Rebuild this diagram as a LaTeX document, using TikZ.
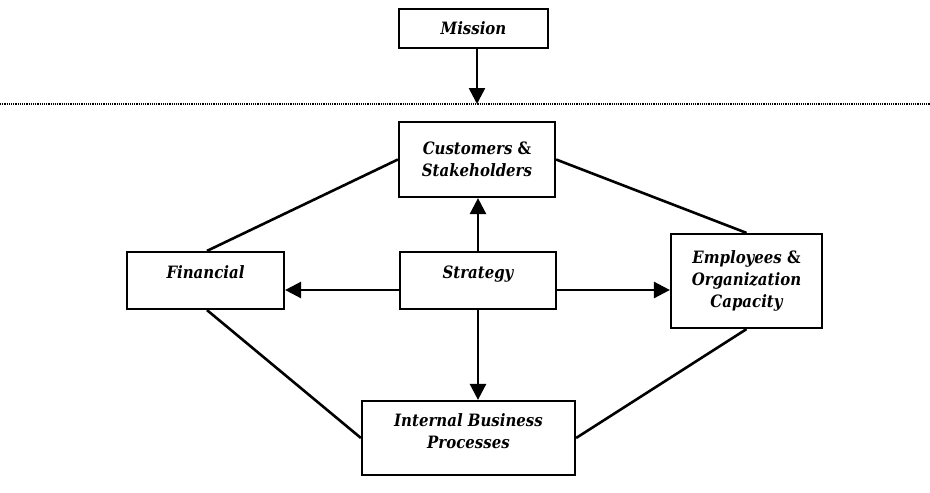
\documentclass[tikz,border=0pt]{standalone}
\usepackage{fontspec}
\setmainfont{DejaVu Serif}[FakeStretch=0.88]
\usetikzlibrary{arrows.meta}
\newcommand{\amp}{{\upshape\&}}
\tikzset{
  box/.style={draw, line width=2.2pt, rectangle, inner sep=0pt, align=center,
    font=\fontsize{17}{22}\selectfont\bfseries\itshape},
  conn/.style={line width=2.6pt},
  arr/.style={line width=2.6pt, -{Triangle[length=16pt,width=16pt]}},
  sep/.style={line width=1.3pt, dash pattern=on 1.2pt off 1pt}
}
\begin{document}
\begin{tikzpicture}[x=1pt,y=-1pt]
\useasboundingbox (0,0) rectangle (930,493);
\node[box, minimum width=149pt, minimum height=39pt] (mis) at (473.5,28.5) {Mission};
\node[box, minimum width=156pt, minimum height=75pt] (cust) at (477,159.5) {Customers \amp\\Stakeholders};
\node[box, minimum width=156pt, minimum height=57pt, text depth=16pt] (str) at (478,280.5) {Strategy};
\node[box, minimum width=157pt, minimum height=57pt, text depth=16pt] (fin) at (205.5,280.5) {Financial};
\node[box, minimum width=151pt, minimum height=94pt] (emp) at (746.5,281) {Employees \amp\\Organization\\Capacity};
\node[box, minimum width=213pt, minimum height=74pt, text depth=14pt] (int) at (468.5,438) {Internal Business\\Processes};
\coordinate (dl) at (477,104);
\coordinate (dlL) at (0,104);
\coordinate (dlR) at (930,104);
\draw[sep] (dlL) -- (dlR);
\draw[arr] (mis.south -| dl) -- (dl);
\draw[arr] (str.north) -- (str.north |- cust.south);
\draw[arr] (str.south) -- (str.south |- int.north);
\draw[arr] ([yshift=-9.5pt]str.west) -- ([yshift=-9.5pt]str.west -| fin.east);
\draw[arr] ([yshift=-9.5pt]str.east) -- ([yshift=-9.5pt]str.east -| emp.west);
\draw[conn] (cust.west) -- ([xshift=1.5pt]fin.north);
\draw[conn] (cust.east) -- (emp.north);
\draw[conn] ([xshift=1.5pt]fin.south) -- (int.west);
\draw[conn] (emp.south) -- (int.east);
\end{tikzpicture}
\end{document}
